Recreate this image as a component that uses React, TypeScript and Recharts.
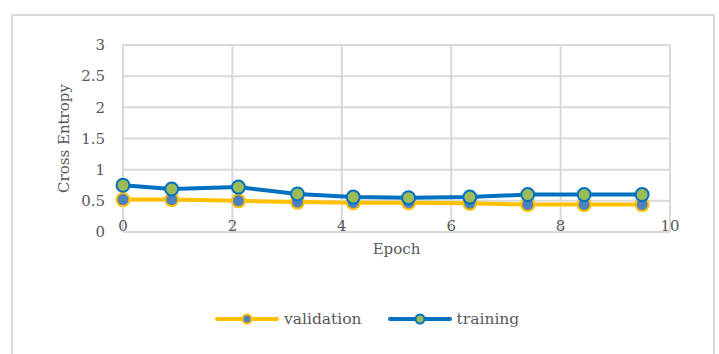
import React from 'react';
import { LineChart, Line, XAxis, YAxis, CartesianGrid, Legend } from 'recharts';

const epochs = [0, 0.89, 2.11, 3.19, 4.21, 5.22, 6.34, 7.4, 8.43, 9.49];
const validationLoss = [0.52, 0.52, 0.5, 0.48, 0.47, 0.47, 0.46, 0.44, 0.44, 0.44];
const trainingLoss = [0.75, 0.69, 0.72, 0.61, 0.56, 0.55, 0.56, 0.6, 0.6, 0.6];
const xTicks = [0, 2, 4, 6, 8, 10];
const yTicks = [0, 0.5, 1, 1.5, 2, 2.5, 3];
const xTitle = 'Epoch';
const yTitle = 'Cross Entropy';

const data = epochs.map((e, i) => ({ epoch: e, validation: validationLoss[i], training: trainingLoss[i] }));

const FONT = '"DejaVu Serif", serif';
const TEXT = '#595959';
const GRID = '#D9D9D9';

const seriesStyle = [
  { key: 'validation', name: 'validation', line: '#FFC000', fill: '#4F81BD' },
  { key: 'training', name: 'training', line: '#0070C0', fill: '#9BBB59' },
];

const XTick = (props: any) => {
  const { x, y, payload } = props;
  return (
    <text x={x} y={y} dy={-1} textAnchor="middle" fill={TEXT} fontSize={15} fontFamily={FONT}>
      {payload.value}
    </text>
  );
};

const XLabel = (props: any) => {
  const vb = props.viewBox || {};
  return (
    <text x={vb.x + vb.width / 2} y={vb.y + 22} textAnchor="middle" fill={TEXT} fontSize={15} fontFamily={FONT}>
      {xTitle}
    </text>
  );
};

const YLabel = (props: any) => {
  const vb = props.viewBox || {};
  const cx = vb.x + 69;
  const cy = vb.y + vb.height / 2;
  return (
    <text x={cx} y={cy} transform={`rotate(-90, ${cx}, ${cy})`} textAnchor="middle" fill={TEXT} fontSize={15} fontFamily={FONT}>
      {yTitle}
    </text>
  );
};

const LegendContent = () => (
  <div style={{ display: 'flex', alignItems: 'center', paddingLeft: 215, fontFamily: FONT, fontSize: 15.5, color: TEXT }}>
    {seriesStyle.map((s) => (
      <div key={s.key} style={{ display: 'flex', alignItems: 'center', marginRight: 26 }}>
        <svg width={64} height={14}>
          <line x1={2} y1={7} x2={62} y2={7} stroke={s.line} strokeWidth={4} strokeLinecap="round" />
          <circle cx={32} cy={7} r={4.5} fill={s.fill} stroke={s.line} strokeWidth={2} />
        </svg>
        <span style={{ marginLeft: 5 }}>{s.name}</span>
      </div>
    ))}
  </div>
);

export default function App() {
  return (
    <div style={{ position: 'absolute', left: 0, top: 0, width: 719, height: 354, background: '#fff', overflow: 'hidden' }}>
      <div style={{ position: 'absolute', left: 11, top: 14, width: 700, height: 400, border: `2px solid ${GRID}` }} />
      <div style={{ position: 'absolute', left: 0, top: 0 }}>
        <LineChart width={719} height={354} data={data} margin={{ top: 45, right: 49, bottom: 92, left: 0 }}>
          <CartesianGrid stroke={GRID} strokeWidth={2} />
          <XAxis
            type="number"
            dataKey="epoch"
            domain={[0, 10]}
            ticks={xTicks}
            interval={0}
            axisLine={false}
            tickLine={false}
            tickSize={0}
            tickMargin={0}
            height={30}
            tick={<XTick />}
            label={{ content: XLabel }}
          />
          <YAxis
            type="number"
            domain={[0, 3]}
            ticks={yTicks}
            interval={0}
            width={123}
            axisLine={false}
            tickLine={false}
            tickMargin={12}
            tick={{ fill: TEXT, fontSize: 15, fontFamily: FONT }}
            label={{ content: YLabel }}
          />
          <Legend verticalAlign="middle" layout="horizontal" content={<LegendContent />} wrapperStyle={{ top: 310, left: 0, width: 719 }} />
          {seriesStyle.map((s) => (
            <Line
              key={s.key}
              type="linear"
              dataKey={s.key}
              name={s.name}
              stroke={s.line}
              strokeWidth={4}
              dot={{ r: 6.5, fill: s.fill, stroke: s.line, strokeWidth: 2 }}
              activeDot={false}
              isAnimationActive={false}
            />
          ))}
        </LineChart>
      </div>
    </div>
  );
}
